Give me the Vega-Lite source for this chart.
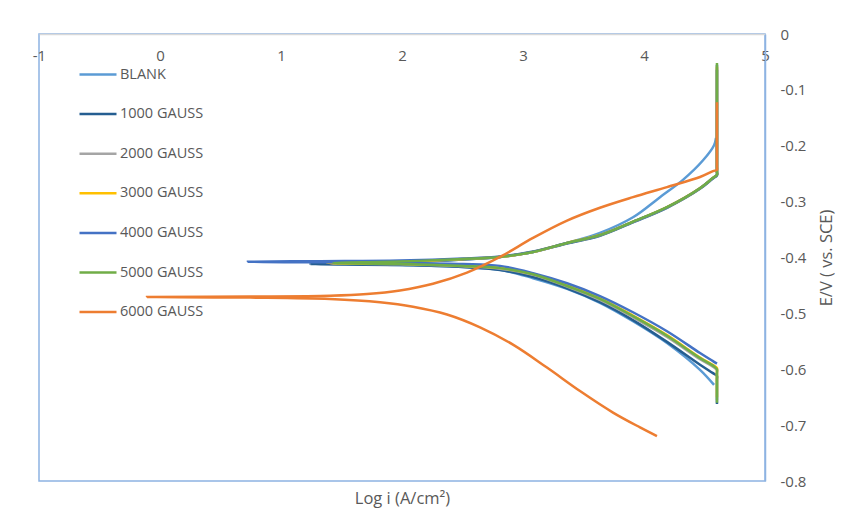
{
  "$schema": "https://vega.github.io/schema/vega-lite/v6.json",
  "width": 726,
  "height": 447,
  "autosize": {"type": "none"},
  "padding": {"left": 39, "top": 34, "right": 82, "bottom": 43},
  "background": "white",
  "config": {
    "view": {"stroke": "#8db3e2", "strokeWidth": 1.5},
    "font": "Open Sans",
    "axis": {"grid": false, "labelColor": "#595959", "titleColor": "#595959", "labelFont": "Open Sans", "titleFont": "Open Sans", "labelFontSize": 15, "titleFontSize": 16.5, "titleFontWeight": "normal"}
  },
  "data": {
    "values": [
      {"s": "BLANK", "logi": 4.579, "E": -0.628},
      {"s": "BLANK", "logi": 4.463, "E": -0.601},
      {"s": "BLANK", "logi": 4.190, "E": -0.553},
      {"s": "BLANK", "logi": 3.909, "E": -0.514},
      {"s": "BLANK", "logi": 3.636, "E": -0.481},
      {"s": "BLANK", "logi": 3.364, "E": -0.456},
      {"s": "BLANK", "logi": 3.083, "E": -0.437},
      {"s": "BLANK", "logi": 2.810, "E": -0.422},
      {"s": "BLANK", "logi": 2.504, "E": -0.417},
      {"s": "BLANK", "logi": 1.983, "E": -0.4134},
      {"s": "BLANK", "logi": 1.430, "E": -0.4108},
      {"s": "BLANK", "logi": 1.983, "E": -0.409},
      {"s": "BLANK", "logi": 2.504, "E": -0.4036},
      {"s": "BLANK", "logi": 2.810, "E": -0.399},
      {"s": "BLANK", "logi": 3.083, "E": -0.390},
      {"s": "BLANK", "logi": 3.364, "E": -0.374},
      {"s": "BLANK", "logi": 3.636, "E": -0.356},
      {"s": "BLANK", "logi": 3.909, "E": -0.328},
      {"s": "BLANK", "logi": 4.132, "E": -0.292},
      {"s": "BLANK", "logi": 4.322, "E": -0.261},
      {"s": "BLANK", "logi": 4.488, "E": -0.226},
      {"s": "BLANK", "logi": 4.579, "E": -0.199},
      {"s": "BLANK", "logi": 4.595, "E": -0.186},

      {"s": "1000 GAUSS", "logi": 4.603, "E": -0.662},
      {"s": "1000 GAUSS", "logi": 4.603, "E": -0.618},
      {"s": "1000 GAUSS", "logi": 4.603, "E": -0.612},
      {"s": "1000 GAUSS", "logi": 4.570, "E": -0.607},
      {"s": "1000 GAUSS", "logi": 4.463, "E": -0.592},
      {"s": "1000 GAUSS", "logi": 4.190, "E": -0.551},
      {"s": "1000 GAUSS", "logi": 3.909, "E": -0.512},
      {"s": "1000 GAUSS", "logi": 3.636, "E": -0.480},
      {"s": "1000 GAUSS", "logi": 3.364, "E": -0.455},
      {"s": "1000 GAUSS", "logi": 3.083, "E": -0.435},
      {"s": "1000 GAUSS", "logi": 2.810, "E": -0.4224},
      {"s": "1000 GAUSS", "logi": 2.504, "E": -0.417},
      {"s": "1000 GAUSS", "logi": 1.983, "E": -0.4135},
      {"s": "1000 GAUSS", "logi": 1.240, "E": -0.4116},
      {"s": "1000 GAUSS", "logi": 1.983, "E": -0.409},
      {"s": "1000 GAUSS", "logi": 2.504, "E": -0.4036},
      {"s": "1000 GAUSS", "logi": 2.810, "E": -0.399},
      {"s": "1000 GAUSS", "logi": 3.083, "E": -0.390},
      {"s": "1000 GAUSS", "logi": 3.364, "E": -0.375},
      {"s": "1000 GAUSS", "logi": 3.636, "E": -0.361},
      {"s": "1000 GAUSS", "logi": 3.909, "E": -0.337},
      {"s": "1000 GAUSS", "logi": 4.190, "E": -0.311},
      {"s": "1000 GAUSS", "logi": 4.463, "E": -0.277},
      {"s": "1000 GAUSS", "logi": 4.570, "E": -0.2585},
      {"s": "1000 GAUSS", "logi": 4.603, "E": -0.253},
      {"s": "1000 GAUSS", "logi": 4.603, "E": -0.247},
      {"s": "1000 GAUSS", "logi": 4.603, "E": -0.055},

      {"s": "2000 GAUSS", "logi": 4.603, "E": -0.655},
      {"s": "2000 GAUSS", "logi": 4.603, "E": -0.608},
      {"s": "2000 GAUSS", "logi": 4.603, "E": -0.602},
      {"s": "2000 GAUSS", "logi": 4.570, "E": -0.5955},
      {"s": "2000 GAUSS", "logi": 4.463, "E": -0.582},
      {"s": "2000 GAUSS", "logi": 4.190, "E": -0.542},
      {"s": "2000 GAUSS", "logi": 3.909, "E": -0.507},
      {"s": "2000 GAUSS", "logi": 3.636, "E": -0.476},
      {"s": "2000 GAUSS", "logi": 3.364, "E": -0.452},
      {"s": "2000 GAUSS", "logi": 3.083, "E": -0.431},
      {"s": "2000 GAUSS", "logi": 2.810, "E": -0.420},
      {"s": "2000 GAUSS", "logi": 2.504, "E": -0.4155},
      {"s": "2000 GAUSS", "logi": 1.983, "E": -0.412},
      {"s": "2000 GAUSS", "logi": 1.400, "E": -0.4102},
      {"s": "2000 GAUSS", "logi": 1.983, "E": -0.4075},
      {"s": "2000 GAUSS", "logi": 2.504, "E": -0.403},
      {"s": "2000 GAUSS", "logi": 2.810, "E": -0.3992},
      {"s": "2000 GAUSS", "logi": 3.083, "E": -0.3902},
      {"s": "2000 GAUSS", "logi": 3.364, "E": -0.3742},
      {"s": "2000 GAUSS", "logi": 3.636, "E": -0.3602},
      {"s": "2000 GAUSS", "logi": 3.909, "E": -0.3362},
      {"s": "2000 GAUSS", "logi": 4.190, "E": -0.3102},
      {"s": "2000 GAUSS", "logi": 4.463, "E": -0.2762},
      {"s": "2000 GAUSS", "logi": 4.570, "E": -0.2577},
      {"s": "2000 GAUSS", "logi": 4.603, "E": -0.2522},
      {"s": "2000 GAUSS", "logi": 4.603, "E": -0.2462},
      {"s": "2000 GAUSS", "logi": 4.603, "E": -0.060},

      {"s": "3000 GAUSS", "logi": 4.603, "E": -0.650},
      {"s": "3000 GAUSS", "logi": 4.603, "E": -0.604},
      {"s": "3000 GAUSS", "logi": 4.603, "E": -0.598},
      {"s": "3000 GAUSS", "logi": 4.570, "E": -0.5925},
      {"s": "3000 GAUSS", "logi": 4.463, "E": -0.579},
      {"s": "3000 GAUSS", "logi": 4.190, "E": -0.539},
      {"s": "3000 GAUSS", "logi": 3.909, "E": -0.504},
      {"s": "3000 GAUSS", "logi": 3.636, "E": -0.473},
      {"s": "3000 GAUSS", "logi": 3.364, "E": -0.450},
      {"s": "3000 GAUSS", "logi": 3.083, "E": -0.4295},
      {"s": "3000 GAUSS", "logi": 2.810, "E": -0.4185},
      {"s": "3000 GAUSS", "logi": 2.504, "E": -0.4148},
      {"s": "3000 GAUSS", "logi": 1.983, "E": -0.4114},
      {"s": "3000 GAUSS", "logi": 1.380, "E": -0.4097},
      {"s": "3000 GAUSS", "logi": 1.983, "E": -0.4071},
      {"s": "3000 GAUSS", "logi": 2.504, "E": -0.4026},
      {"s": "3000 GAUSS", "logi": 2.810, "E": -0.3988},
      {"s": "3000 GAUSS", "logi": 3.083, "E": -0.3898},
      {"s": "3000 GAUSS", "logi": 3.364, "E": -0.3738},
      {"s": "3000 GAUSS", "logi": 3.636, "E": -0.3598},
      {"s": "3000 GAUSS", "logi": 3.909, "E": -0.3358},
      {"s": "3000 GAUSS", "logi": 4.190, "E": -0.3098},
      {"s": "3000 GAUSS", "logi": 4.463, "E": -0.2758},
      {"s": "3000 GAUSS", "logi": 4.570, "E": -0.2573},
      {"s": "3000 GAUSS", "logi": 4.603, "E": -0.2518},
      {"s": "3000 GAUSS", "logi": 4.603, "E": -0.2458},
      {"s": "3000 GAUSS", "logi": 4.603, "E": -0.058},

      {"s": "4000 GAUSS", "logi": 4.603, "E": -0.590},
      {"s": "4000 GAUSS", "logi": 4.570, "E": -0.5855},
      {"s": "4000 GAUSS", "logi": 4.463, "E": -0.571},
      {"s": "4000 GAUSS", "logi": 4.190, "E": -0.532},
      {"s": "4000 GAUSS", "logi": 3.909, "E": -0.498},
      {"s": "4000 GAUSS", "logi": 3.636, "E": -0.469},
      {"s": "4000 GAUSS", "logi": 3.364, "E": -0.446},
      {"s": "4000 GAUSS", "logi": 3.083, "E": -0.428},
      {"s": "4000 GAUSS", "logi": 2.810, "E": -0.415},
      {"s": "4000 GAUSS", "logi": 2.504, "E": -0.4115},
      {"s": "4000 GAUSS", "logi": 1.983, "E": -0.4098},
      {"s": "4000 GAUSS", "logi": 1.322, "E": -0.4087},
      {"s": "4000 GAUSS", "logi": 0.727, "E": -0.4075},
      {"s": "4000 GAUSS", "logi": 1.322, "E": -0.4066},
      {"s": "4000 GAUSS", "logi": 1.983, "E": -0.4054},
      {"s": "4000 GAUSS", "logi": 2.504, "E": -0.4018},
      {"s": "4000 GAUSS", "logi": 2.810, "E": -0.398},
      {"s": "4000 GAUSS", "logi": 3.083, "E": -0.389},
      {"s": "4000 GAUSS", "logi": 3.364, "E": -0.3741},
      {"s": "4000 GAUSS", "logi": 3.636, "E": -0.3601},
      {"s": "4000 GAUSS", "logi": 3.909, "E": -0.3361},
      {"s": "4000 GAUSS", "logi": 4.190, "E": -0.3101},
      {"s": "4000 GAUSS", "logi": 4.463, "E": -0.2761},
      {"s": "4000 GAUSS", "logi": 4.570, "E": -0.2576},
      {"s": "4000 GAUSS", "logi": 4.603, "E": -0.2521},
      {"s": "4000 GAUSS", "logi": 4.603, "E": -0.2461},
      {"s": "4000 GAUSS", "logi": 4.603, "E": -0.064},

      {"s": "5000 GAUSS", "logi": 4.603, "E": -0.660},
      {"s": "5000 GAUSS", "logi": 4.603, "E": -0.606},
      {"s": "5000 GAUSS", "logi": 4.603, "E": -0.600},
      {"s": "5000 GAUSS", "logi": 4.570, "E": -0.5935},
      {"s": "5000 GAUSS", "logi": 4.463, "E": -0.580},
      {"s": "5000 GAUSS", "logi": 4.190, "E": -0.540},
      {"s": "5000 GAUSS", "logi": 3.909, "E": -0.505},
      {"s": "5000 GAUSS", "logi": 3.636, "E": -0.474},
      {"s": "5000 GAUSS", "logi": 3.364, "E": -0.451},
      {"s": "5000 GAUSS", "logi": 3.083, "E": -0.430},
      {"s": "5000 GAUSS", "logi": 2.810, "E": -0.419},
      {"s": "5000 GAUSS", "logi": 2.504, "E": -0.415},
      {"s": "5000 GAUSS", "logi": 1.983, "E": -0.4116},
      {"s": "5000 GAUSS", "logi": 1.430, "E": -0.4098},
      {"s": "5000 GAUSS", "logi": 1.983, "E": -0.4072},
      {"s": "5000 GAUSS", "logi": 2.504, "E": -0.4027},
      {"s": "5000 GAUSS", "logi": 2.810, "E": -0.399},
      {"s": "5000 GAUSS", "logi": 3.083, "E": -0.390},
      {"s": "5000 GAUSS", "logi": 3.364, "E": -0.374},
      {"s": "5000 GAUSS", "logi": 3.636, "E": -0.360},
      {"s": "5000 GAUSS", "logi": 3.909, "E": -0.336},
      {"s": "5000 GAUSS", "logi": 4.190, "E": -0.310},
      {"s": "5000 GAUSS", "logi": 4.463, "E": -0.276},
      {"s": "5000 GAUSS", "logi": 4.570, "E": -0.2575},
      {"s": "5000 GAUSS", "logi": 4.603, "E": -0.252},
      {"s": "5000 GAUSS", "logi": 4.603, "E": -0.246},
      {"s": "5000 GAUSS", "logi": 4.603, "E": -0.052},

      {"s": "6000 GAUSS", "logi": 4.107, "E": -0.7195},
      {"s": "6000 GAUSS", "logi": 3.967, "E": -0.7040},
      {"s": "6000 GAUSS", "logi": 3.744, "E": -0.6775},
      {"s": "6000 GAUSS", "logi": 3.471, "E": -0.6390},
      {"s": "6000 GAUSS", "logi": 3.198, "E": -0.597},
      {"s": "6000 GAUSS", "logi": 2.917, "E": -0.556},
      {"s": "6000 GAUSS", "logi": 2.645, "E": -0.525},
      {"s": "6000 GAUSS", "logi": 2.372, "E": -0.502},
      {"s": "6000 GAUSS", "logi": 2.091, "E": -0.488},
      {"s": "6000 GAUSS", "logi": 1.818, "E": -0.480},
      {"s": "6000 GAUSS", "logi": 1.405, "E": -0.4743},
      {"s": "6000 GAUSS", "logi": 0.744, "E": -0.4718},
      {"s": "6000 GAUSS", "logi": -0.107, "E": -0.4707},
      {"s": "6000 GAUSS", "logi": 0.744, "E": -0.4700},
      {"s": "6000 GAUSS", "logi": 1.405, "E": -0.4686},
      {"s": "6000 GAUSS", "logi": 1.711, "E": -0.4655},
      {"s": "6000 GAUSS", "logi": 1.983, "E": -0.459},
      {"s": "6000 GAUSS", "logi": 2.256, "E": -0.447},
      {"s": "6000 GAUSS", "logi": 2.537, "E": -0.427},
      {"s": "6000 GAUSS", "logi": 2.810, "E": -0.399},
      {"s": "6000 GAUSS", "logi": 3.083, "E": -0.365},
      {"s": "6000 GAUSS", "logi": 3.364, "E": -0.334},
      {"s": "6000 GAUSS", "logi": 3.636, "E": -0.311},
      {"s": "6000 GAUSS", "logi": 3.909, "E": -0.292},
      {"s": "6000 GAUSS", "logi": 4.190, "E": -0.274},
      {"s": "6000 GAUSS", "logi": 4.463, "E": -0.256},
      {"s": "6000 GAUSS", "logi": 4.570, "E": -0.2455},
      {"s": "6000 GAUSS", "logi": 4.603, "E": -0.243},
      {"s": "6000 GAUSS", "logi": 4.603, "E": -0.237},
      {"s": "6000 GAUSS", "logi": 4.603, "E": -0.122}
    ]
  },
  "mark": {"type": "line", "strokeWidth": 2.5, "interpolate": "catmull-rom", "clip": false},
  "encoding": {
    "x": {
      "field": "logi", "type": "quantitative",
      "scale": {"domain": [-1, 5], "nice": false, "zero": false},
      "axis": {
        "orient": "bottom", "offset": -447, "values": [-1, 0, 1, 2, 3, 4, 5],
        "labelExpr": "'' + datum.value", "labelFlush": false, "labelBaseline": "middle",
        "labelPadding": 21, "ticks": false, "domainColor": "#d9d9d9", "domainWidth": 1.5,
        "title": "Log i (A/cm²)", "titleY": 464, "titleBaseline": "middle", "labelOverlap": false
      }
    },
    "y": {
      "field": "E", "type": "quantitative",
      "scale": {"domain": [-0.8, 0], "nice": false, "zero": false},
      "axis": {
        "orient": "right", "values": [0, -0.1, -0.2, -0.3, -0.4, -0.5, -0.6, -0.7, -0.8],
        "labelExpr": "'' + datum.value", "labelPadding": 15, "ticks": false,
        "domainColor": "#8db3e2", "domainWidth": 1.5,
        "title": "E/V ( vs. SCE)", "titleAngle": 270, "titleX": 61, "titleY": 223.5,
        "titleBaseline": "middle", "titleAlign": "center", "labelOverlap": false
      }
    },
    "color": {
      "field": "s", "type": "nominal",
      "scale": {
        "domain": ["BLANK", "1000 GAUSS", "2000 GAUSS", "3000 GAUSS", "4000 GAUSS", "5000 GAUSS", "6000 GAUSS"],
        "range": ["#5B9BD5", "#255E91", "#A5A5A5", "#FFC000", "#4472C4", "#70AD47", "#ED7D31"]
      },
      "legend": {
        "orient": "none", "legendX": 39, "legendY": 20.5, "title": null, "padding": 0,
        "symbolType": "stroke", "symbolSize": 1369, "symbolStrokeWidth": 2.5,
        "labelFontSize": 14.5, "labelColor": "#595959", "labelFont": "Open Sans",
        "labelOffset": 2, "rowPadding": 12.6
      }
    },
    "order": {"field": "E", "type": "quantitative"}
  }
}
